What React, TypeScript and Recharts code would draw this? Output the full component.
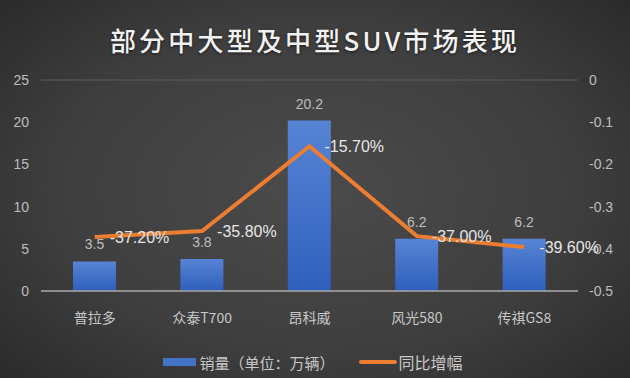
import React from 'react';
import {
  ComposedChart,
  Bar,
  Line,
  XAxis,
  YAxis,
  CartesianGrid,
  LabelList,
  Legend
} from 'recharts';

const models = ['普拉多', '众泰T700', '昂科威', '风光580', '传祺GS8'];
const sales = [3.5, 3.8, 20.2, 6.2, 6.2];
const yoy = [-0.372, -0.358, -0.157, -0.37, -0.396];
const leftTicks = [0, 5, 10, 15, 20, 25];
const rightTicks = [-0.5, -0.4, -0.3, -0.2, -0.1, 0];

const FONT = "'Liberation Sans', 'Noto Sans CJK SC', sans-serif";
const CJK = "'Noto Sans CJK SC', 'Liberation Sans', sans-serif";

const data = models.map((name, i) => ({ name, sales: sales[i], yoy: yoy[i] }));

// fullwidth punctuation gets squeezed by the installed font, so give it a full cell
const Punct = ({ ch, align }: { ch: string; align: string }) => (
  <span style={{ display: 'inline-block', width: 15, textAlign: align as any }}>{ch}</span>
);

function LegendBox() {
  return (
    <div style={{ display: 'flex', justifyContent: 'center', alignItems: 'center', height: 24, fontFamily: CJK, fontSize: 15, color: '#c8c8c8' }}>
      <span style={{ display: 'inline-block', width: 33, height: 8, background: '#4472c4', marginRight: 3 }} />
      <span>
        销量<Punct ch="（" align="right" />单位<Punct ch="：" align="center" />万辆<Punct ch="）" align="left" />
      </span>
      <span style={{ display: 'inline-block', width: 38, height: 4, borderRadius: 2, background: '#ed7d31', marginLeft: 24, marginRight: 2 }} />
      <span style={{ fontSize: 16 }}>同比增幅</span>
    </div>
  );
}

export default function App() {
  return (
    <div
      style={{
        position: 'absolute',
        left: 0,
        top: 0,
        width: 630,
        height: 378,
        background: 'radial-gradient(ellipse 75% 80% at 50% 50%, #4b4b4b 0%, #3e3e3e 55%, #262626 100%)',
        overflow: 'hidden'
      }}
    >
      <div
        style={{
          position: 'absolute',
          top: 21,
          left: 0,
          width: 630,
          textAlign: 'center',
          fontFamily: CJK,
          fontSize: 26,
          fontWeight: 500,
          letterSpacing: 3.2,
          color: '#f2f2f2',
          textShadow: '0 1px 3px rgba(0,0,0,0.6)'
        }}
      >
        部分中大型及中型SUV市场表现
      </div>
      <ComposedChart
        width={630}
        height={378}
        data={data}
        margin={{ top: 80, right: 14, left: 10, bottom: 4 }}
        style={{ position: 'absolute', left: 0, top: 0 }}
      >
        <defs>
          <linearGradient id="barFill" x1="0" y1="0" x2="0" y2="1">
            <stop offset="0%" stopColor="#5784d4" />
            <stop offset="100%" stopColor="#2f5fbd" />
          </linearGradient>
        </defs>
        <CartesianGrid vertical={false} stroke="#5c5c5c" strokeWidth={1} />
        <XAxis
          dataKey="name"
          axisLine={{ stroke: '#a6a6a6', strokeWidth: 1.5 }}
          tickLine={false}
          tick={{ fill: '#c8c8c8', fontSize: 14, fontFamily: CJK }}
          tickMargin={16}
          height={59}
        />
        <YAxis
          yAxisId="left"
          domain={[0, 25]}
          ticks={leftTicks}
          axisLine={false}
          tickLine={false}
          tick={{ fill: '#bdbdbd', fontSize: 14, fontFamily: FONT }}
          tickMargin={6}
          width={31}
        />
        <YAxis
          yAxisId="right"
          orientation="right"
          domain={[-0.5, 0]}
          ticks={rightTicks}
          axisLine={false}
          tickLine={false}
          tick={{ fill: '#bdbdbd', fontSize: 14, fontFamily: FONT }}
          tickMargin={5}
          width={38}
        />
        <Legend verticalAlign="bottom" height={24} content={() => <LegendBox />} />
        <Bar yAxisId="left" dataKey="sales" barSize={43} fill="url(#barFill)" isAnimationActive={false}>
          <LabelList dataKey="sales" position="top" offset={12} fill="#bdbdbd" fontSize={14} fontFamily={FONT} />
        </Bar>
        <Line
          yAxisId="right"
          dataKey="yoy"
          stroke="#ed7d31"
          strokeWidth={4}
          dot={false}
          activeDot={false}
          isAnimationActive={false}
        >
          <LabelList
            dataKey="yoy"
            position="right"
            offset={15}
            fill="#e6e6e6"
            fontSize={16}
            fontFamily={FONT}
            formatter={(v: any) => `${(v * 100).toFixed(2)}%`}
          />
        </Line>
      </ComposedChart>
    </div>
  );
}
